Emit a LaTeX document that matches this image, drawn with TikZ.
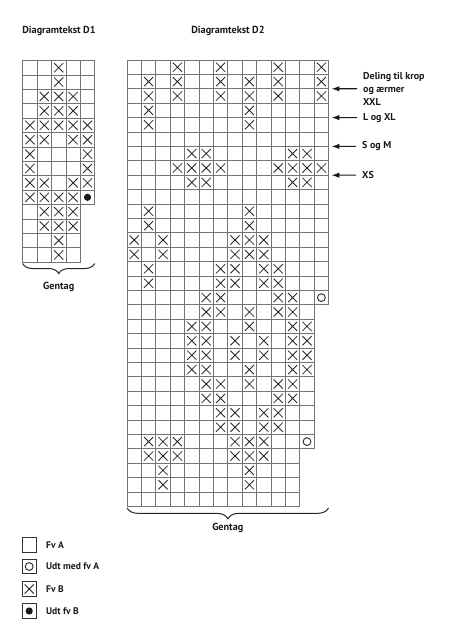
\documentclass[tikz,border=0pt]{standalone}
\usepackage{fontspec}
\setmainfont{PT Sans}
\usetikzlibrary{arrows.meta,decorations.pathreplacing}
\tikzset{
  cellbox/.style={draw=black!55, line width=0.7pt},
  legbox/.style={draw=black!80, line width=0.8pt, minimum size=14.6pt, inner sep=0pt},
  title/.style={font=\fontsize{10.2}{12}\selectfont\bfseries, text=black!90},
  legtext/.style={font=\fontsize{9.6}{12}\selectfont\bfseries, text=black!90, anchor=west, inner sep=2pt},
  sizelabel/.style={font=\fontsize{10}{13}\selectfont\bfseries, text=black!90, align=left, anchor=west, inner xsep=6pt, inner ysep=0pt},
  pointer/.style={-{Latex[length=8pt,width=5.5pt]}, line width=1.1pt, black!90},
  repbrace/.style={decorate, decoration={brace, mirror, amplitude=#1}, line width=1pt, black!85},
  fvb/.pic={\draw[black!85, line width=0.8pt] (-4.6pt,-4.6pt) -- (4.6pt,4.6pt) (-4.6pt,4.6pt) -- (4.6pt,-4.6pt);},
  udta/.pic={\draw[black!85, line width=0.9pt] (0,0) circle (3.9pt);},
  udtb/.pic={\fill[black!90] (0,0) circle (3.6pt);}
}
\begin{document}
\begin{tikzpicture}[x=1pt, y=-1pt]
      \useasboundingbox (0,0) rectangle (451,628);
      \node[title] (tdone) at (59,31) {Diagramtekst D1};
      \node[title] (tdtwo) at (228,31) {Diagramtekst D2};
      \begin{scope}[shift={(22.7,60.5)}, x=14.4pt, y=-14.4pt]
        \foreach \r in {1,...,10} \foreach \c in {1,...,5} \draw[cellbox] (\c-1,\r-1) rectangle (\c,\r);
        \foreach \r in {11,...,14} \foreach \c in {1,...,4} \draw[cellbox] (\c-1,\r-1) rectangle (\c,\r);
        \foreach \r/\cs in {1/{3},2/{3},3/{2,3,4},4/{2,3,4},5/{1,2,3,4,5},6/{1,2,4,5},7/{1,5},
            8/{1,5},9/{1,2,4,5},10/{1,2,3,4},11/{2,3,4},12/{2,3,4},13/{3},14/{3}}
          \foreach \c in \cs \pic at (\c-0.5,\r-0.5) {fvb};
        \pic at (4.5,9.5) {udtb};
        \coordinate (bdonel) at (0,14.1);
        \coordinate (bdoner) at (5,14.1);
      \end{scope}
      \begin{scope}[shift={(127,60)}, x=14.4pt, y=-14.4pt]
        \foreach \r in {1,...,17} \foreach \c in {1,...,14} \draw[cellbox] (\c-1,\r-1) rectangle (\c,\r);
        \foreach \r in {18,...,27} \foreach \c in {1,...,13} \draw[cellbox] (\c-1,\r-1) rectangle (\c,\r);
        \foreach \r in {28,...,31} \foreach \c in {1,...,12} \draw[cellbox] (\c-1,\r-1) rectangle (\c,\r);
        \foreach \r/\cs in {1/{4,7,11,14},2/{2,4,7,9,11,14},3/{2,4,7,9,11,14},4/{2,9},5/{2,9},
            7/{5,6,12,13},8/{4,5,6,7,11,12,13,14},9/{5,6,12,13},11/{2,9},12/{2,9},
            13/{1,3,8,9,10},14/{1,3,8,9,10},15/{2,7,8,10,11},16/{2,7,8,10,11},17/{6,7,11,12},
            18/{6,7,9,11,12},19/{5,6,9,12,13},20/{5,6,8,10,12,13},21/{5,6,8,10,12,13},
            22/{5,6,9,12,13},23/{6,7,9,11,12},24/{6,7,11,12},25/{7,8,10,11},26/{7,8,10,11},
            27/{2,3,4,8,9,10},28/{2,3,4,8,9,10},29/{3,9},30/{3,9}}
          \foreach \c in \cs \pic at (\c-0.5,\r-0.5) {fvb};
        \pic at (13.5,16.5) {udta};
        \pic at (12.5,26.5) {udta};
        \coordinate (tipxxl) at (14.2,2);
        \coordinate (tipxl) at (14.2,4);
        \coordinate (tipsm) at (14.2,6);
        \coordinate (tipxs) at (14.2,8);
        \coordinate (bdtwol) at (0,31.1);
        \coordinate (bdtwor) at (14,31.1);
      \end{scope}
      \node[sizelabel] (lbxxl) at (357,88.8) {Deling til krop\\og ærmer\\XXL};
      \node[sizelabel] (lbxl) at (357,117.6) {L og XL};
      \node[sizelabel] (lbsm) at (356,146.4) {S og M};
      \node[sizelabel] (lbxs) at (356,175.2) {XS};
      \draw[pointer] (lbxxl) -- (tipxxl);
      \draw[pointer] (lbxl) -- (tipxl);
      \draw[pointer] (lbsm) -- (tipsm);
      \draw[pointer] (lbxs) -- (tipxs);
      \draw[repbrace=10pt] (bdonel) -- (bdoner);
      \draw[repbrace=11pt] (bdtwol) -- (bdtwor);
      \node[title] (gdone) at (58.7,287) {Gentag};
      \node[title] (gdtwo) at (227.8,528) {Gentag};
      \node[legbox] (bfva) at (29.2,545) {};
      \node[legbox] (budta) at (29.2,566.5) {};
      \node[legbox] (bfvb) at (29.2,589) {};
      \node[legbox] (budtb) at (29.2,611) {};
      \pic at (budta) {udta};
      \pic at (bfvb) {fvb};
      \pic at (budtb) {udtb};
      \node[legtext] (tfva) at (44,545) {Fv A};
      \node[legtext] (tudta) at (44,566.5) {Udt med fv A};
      \node[legtext] (tfvb) at (44,589) {Fv B};
      \node[legtext] (tudtb) at (44,611) {Udt fv B};
    \end{tikzpicture}
\end{document}
